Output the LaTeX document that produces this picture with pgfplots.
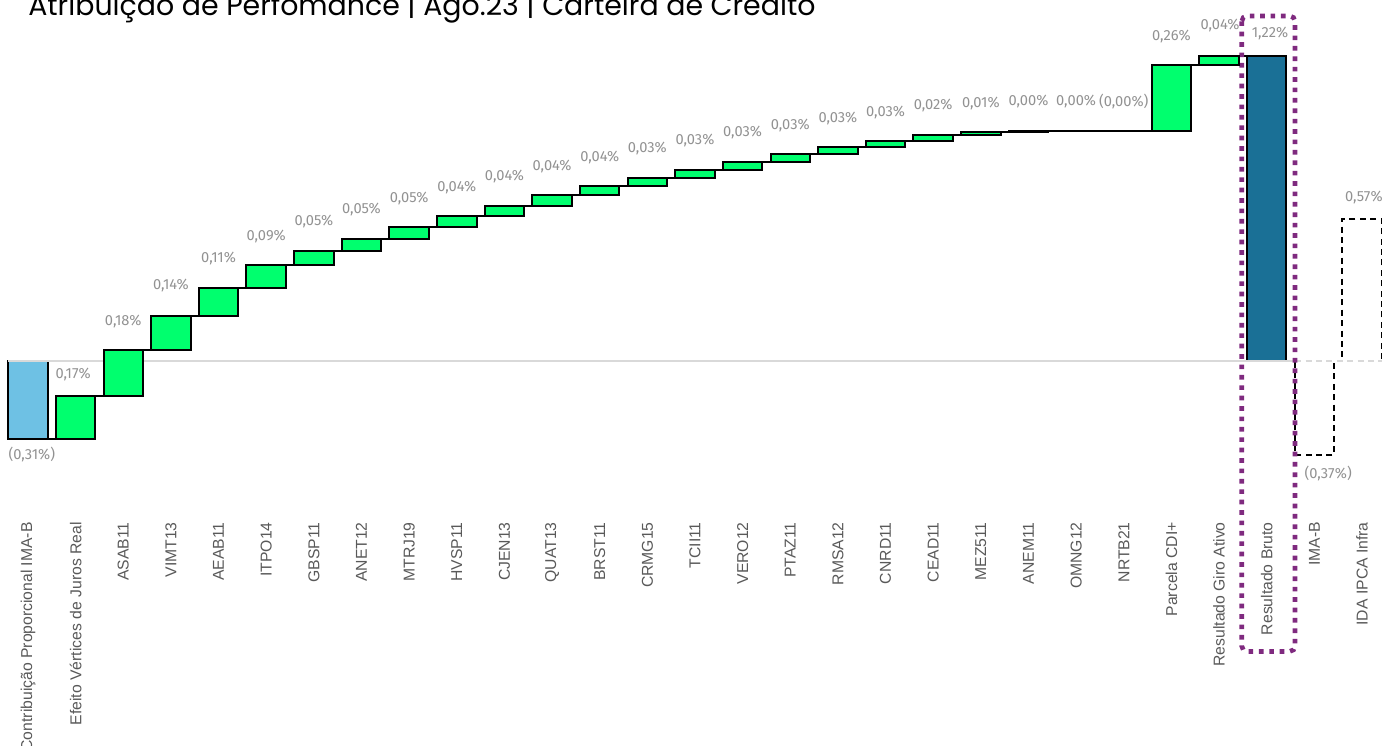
\documentclass[border=0pt]{standalone}
\usepackage{fontspec}
\setmainfont{Liberation Sans}
\newfontfamily\lblfont{Fira Sans}
\newfontfamily\titlefont{Poppins}
\usepackage{pgfplots}
\pgfplotsset{compat=1.18}
\usepackage{pgfplotstable}
\definecolor{ibblue}{HTML}{6EC1E4}
\definecolor{ibgreen}{HTML}{00FF6E}
\definecolor{ibdark}{HTML}{1A7096}
\definecolor{ibpurple}{HTML}{7F2A7F}
\definecolor{zerogray}{HTML}{D9D9D9}
\definecolor{lblgray}{HTML}{929292}
\definecolor{tickgray}{HTML}{595959}

% floating (green) bars: lower and upper level, in %
\pgfplotstableread{
x lo hi
1 -0.313 -0.140
2 -0.140 0.044
3 0.044 0.182
4 0.182 0.293
5 0.293 0.388
6 0.388 0.443
7 0.443 0.492
8 0.492 0.541
9 0.541 0.583
10 0.583 0.624
11 0.624 0.667
12 0.667 0.705
13 0.705 0.738
14 0.738 0.770
15 0.770 0.802
16 0.802 0.834
17 0.834 0.860
18 0.860 0.886
19 0.886 0.910
20 0.910 0.921
21 0.921 0.925
22 0.925 0.927
23 0.927 0.926
24 0.926 1.192
25 1.192 1.229
}\greentab

% running total (connector lines)
\pgfplotstableread{
x y
0 -0.313
1 -0.140
2 0.044
3 0.182
4 0.293
5 0.388
6 0.443
7 0.492
8 0.541
9 0.583
10 0.624
11 0.667
12 0.705
13 0.738
14 0.770
15 0.802
16 0.834
17 0.860
18 0.886
19 0.910
20 0.921
21 0.925
22 0.927
23 0.926
24 1.192
25 1.229
26 1.229
}\steptab

% value labels
\pgfplotstableread{
x y lbl
0.08 -0.378 {(0,31\%)}
0.95 -0.056 {0,17\%}
2 0.161 {0,18\%}
3 0.302 {0,14\%}
4 0.411 {0,11\%}
5 0.503 {0,09\%}
6 0.560 {0,05\%}
7 0.608 {0,05\%}
8 0.656 {0,05\%}
9 0.700 {0,04\%}
10 0.741 {0,04\%}
11 0.785 {0,04\%}
12 0.821 {0,04\%}
13 0.857 {0,03\%}
14 0.886 {0,03\%}
15 0.918 {0,03\%}
16 0.950 {0,03\%}
17 0.978 {0,03\%}
18 1.002 {0,03\%}
19 1.027 {0,02\%}
20 1.035 {0,01\%}
21 1.043 {0,00\%}
22 1.043 {0,00\%}
23 1.043 {(0,00\%)}
24 1.308 {0,26\%}
25.02 1.349 {0,04\%}
26.07 1.320 {1,22\%}
27.29 -0.451 {(0,37\%)}
28.04 0.660 {0,57\%}
}\labtab

\pgfplotsset{wf/.style={scale only axis, width=1036.5pt, height=391.5pt,
  xmin=-0.5877, xmax=28.42, ymin=-0.648, ymax=1.4533, clip=false,
  axis line style={draw=none}, ytick=\empty, major tick length=0pt}}

\begin{document}
\begin{tikzpicture}
\begin{axis}[wf,
  xtick={0,...,28},
  xticklabels={{Contribuição Proporcional IMA-B},{Efeito Vértices de Juros Real},ASAB11,VIMT13,AEAB11,ITPO14,GBSP11,ANET12,MTRJ19,HVSP11,CJEN13,QUAT13,BRST11,CRMG15,TCII11,VERO12,PTAZ11,RMSA12,CNRD11,CEAD11,MEZ511,ANEM11,OMNG12,NRTB21,{Parcela CDI+},{Resultado Giro Ativo},{Resultado Bruto},IMA-B,{IDA IPCA Infra}},
  xticklabel style={rotate=90, anchor=east, inner sep=0pt, font=\fontsize{11.8}{13}\selectfont, text=tickgray}]
\addplot[const plot, black, line width=1.5pt, mark=none] table[x=x,y=y]{\steptab};
\addplot[ybar, bar width=0.83, fill=ibblue, draw=black, line width=1.5pt] coordinates {(0,-0.313)};
\addplot[ybar, bar width=0.83, fill=ibdark, draw=black, line width=1.5pt] coordinates {(26,1.229)};
\addplot[ybar, bar width=0.83, draw=black, fill=none, line width=1.5pt, dash pattern=on 4.5pt off 3.3pt] coordinates {(27,-0.378) (28,0.572)};
\addplot[zerogray, line width=1.5pt, mark=none] coordinates {(-0.42,0) (26.6,0)};
\addplot[white, line width=2pt, mark=none] coordinates {(26.6,0) (28.42,0)};
\addplot[zerogray, line width=1.5pt, mark=none, dash pattern=on 4.5pt off 3.3pt] coordinates {(26.6,0) (28.42,0)};
\addplot[draw=none, mark=none, nodes near coords, point meta=explicit symbolic,
  nodes near coords style={anchor=center, inner sep=0pt, font=\lblfont\fontsize{11}{13}\selectfont, text=lblgray}]
  table[x=x, y=y, meta=lbl]{\labtab};
\draw[ibpurple, line width=3.5pt, dash pattern=on 3.5pt off 4.3pt, rounded corners=4pt]
  (axis cs:25.476,1.389) rectangle (axis cs:26.595,-1.169);
\end{axis}
\begin{axis}[wf, hide axis, ybar stacked, stack negative=on previous, bar width=0.83]
\addplot[draw=none, fill=none] table[x=x, y=lo]{\greentab};
\addplot[fill=ibgreen, draw=black, line width=1.5pt] table[x=x, y expr=\thisrow{hi}-\thisrow{lo}]{\greentab};
\end{axis}
\node[anchor=base west, inner sep=0pt, font=\titlefont\fontsize{21.3}{24}\selectfont] at (21pt,380pt) {Atribuição de Perfomance | Ago.23 | Carteira de Crédito};
\pgfresetboundingbox
\path[use as bounding box] (0,-168pt) rectangle (1036.5pt,391.5pt);
\end{tikzpicture}
\end{document}
